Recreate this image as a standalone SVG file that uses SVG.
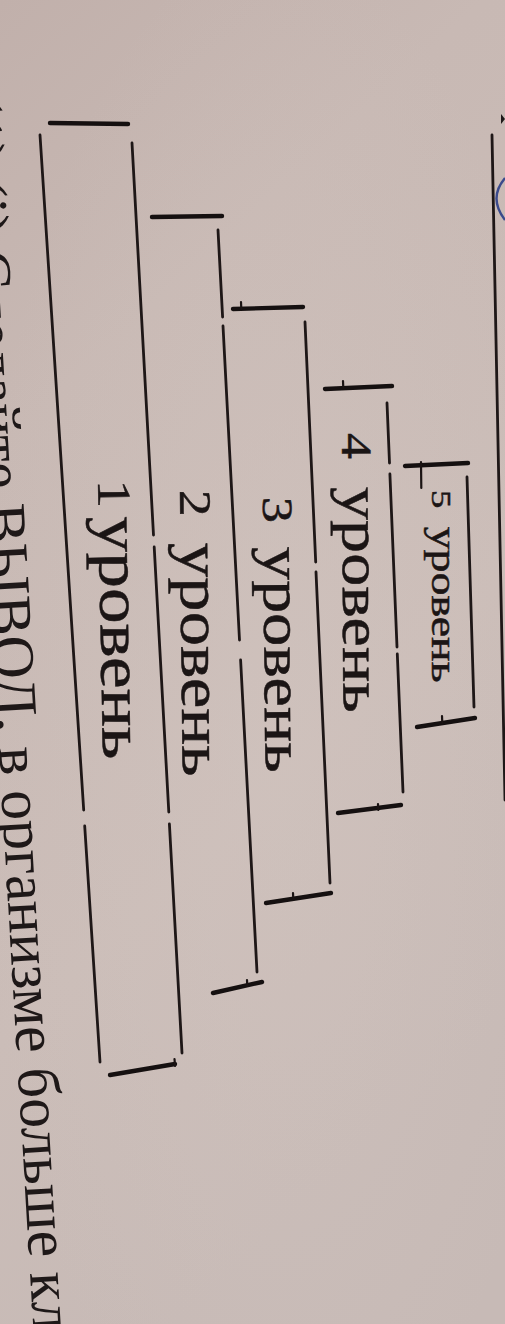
<svg xmlns="http://www.w3.org/2000/svg" width="505" height="1324" viewBox="0 0 505 1324">
<defs>
<linearGradient id="paper" x1="0" y1="0" x2="0.35" y2="1">
<stop offset="0" stop-color="#c1b0ab"/>
<stop offset="0.3" stop-color="#c8b9b4"/>
<stop offset="0.7" stop-color="#cbbdb8"/>
<stop offset="1" stop-color="#c7bab6"/>
</linearGradient>
<radialGradient id="glow" cx="0.55" cy="0.55" r="0.6">
<stop offset="0" stop-color="#d2c5c0" stop-opacity="0.5"/>
<stop offset="1" stop-color="#d2c5c0" stop-opacity="0"/>
</radialGradient>
</defs>
<style>
.edge{fill:none;stroke:#1e1717;stroke-width:2.8;stroke-linecap:round}
.bar{fill:none;stroke:#151010;stroke-width:4.4;stroke-linecap:round}
.tick{fill:none;stroke:#1a1313;stroke-width:2.2;stroke-linecap:round}
.lbl{font-family:"Liberation Serif","DejaVu Serif",serif;fill:#1b1515;stroke:#1b1515;stroke-width:0.5}
.page{font-family:"Liberation Serif","DejaVu Serif",serif;fill:#1e1818;font-size:60px}
</style>
<rect x="0" y="0" width="505" height="1324" fill="url(#paper)"/>
<rect x="0" y="0" width="505" height="1324" fill="url(#glow)"/>

<g id="page-frame">
<path class="edge" d="M492 135 L505 800" stroke-width="2.2"/>
<path d="M501 114 L505 119 L501 124 Z" fill="#1e1818"/>
<path d="M505 178 Q488 198 505 220" fill="none" stroke="#3b4a8c" stroke-width="2.4"/>
</g>

<g id="level1">
<path class="edge" d="M40 135 L83.7 810 M84.7 826 L100 1062"/>
<path class="edge" d="M132 143 L153.5 535 M154.2 547 L168.8 812 M169.4 824 L182 1053"/>
<path class="bar" d="M50 123 L128 124"/>
<path class="bar" d="M110 1075 L175 1064"/>
<path class="tick" d="M174.5 1059 L175 1066"/>
<text class="lbl" transform="translate(98,480) rotate(89) scale(1.19,1)"><tspan font-size="47">1 </tspan><tspan x="31" font-size="60">уровень</tspan></text>
</g>

<g id="level2">
<path class="edge" d="M218 230 L222.6 317 M223 326 L239.5 640 M240.6 660 L257 972"/>
<path class="bar" d="M152 217 L222 216"/>
<path class="bar" d="M213 993 L262 982"/>
<path class="tick" d="M247 980 L247.3 986"/>
<text class="lbl" transform="translate(180,490) rotate(89.5) scale(1.185,1)"><tspan font-size="45">2 </tspan><tspan x="44.7" font-size="58">уровень</tspan></text>
</g>

<g id="level3">
<path class="edge" d="M305 322 L315.7 562 M316 572 L330 883"/>
<path class="bar" d="M233 309 L303 307"/>
<path class="tick" d="M241 302 L241.3 309"/>
<path class="bar" d="M266 903 L331 893"/>
<path class="tick" d="M293 893 L293.3 899"/>
<text class="lbl" transform="translate(263,497) rotate(89.5) scale(1.207,1)"><tspan font-size="43">3 </tspan><tspan x="41.4" font-size="55">уровень</tspan></text>
</g>

<g id="level4">
<path class="edge" d="M387 403 L389.5 463 M389.9 474 L397 647 M397.3 654 L403 792"/>
<path class="bar" d="M325 389 L392 386"/>
<path class="tick" d="M343 381 L343.3 388"/>
<path class="bar" d="M338 813 L401 805"/>
<path class="tick" d="M378 804 L378.3 810"/>
<text class="lbl" transform="translate(342,433) rotate(89.7) scale(1.207,1)"><tspan font-size="43">4 </tspan><tspan x="44.7" font-size="55">уровень</tspan></text>
</g>

<g id="level5">
<path class="edge" d="M467 477 L474 707"/>
<path class="bar" d="M405 466 L468 463"/>
<path class="tick" d="M421 462 L421.3 488"/>
<path class="bar" d="M417 727 L475 718"/>
<path class="tick" d="M442 716 L442.3 723"/>
<text class="lbl" transform="translate(432,490) rotate(90) scale(1.31,1)"><tspan font-size="28">5 </tspan><tspan x="28" font-size="35">уровень</tspan></text>
</g>

<g id="connectors"></g>

<g id="page-text">
<text class="page" transform="translate(-40,95) rotate(86.6)">(1) (i) Сделайте ВЫВОД, в организме больше кл</text>
</g>
</svg>
